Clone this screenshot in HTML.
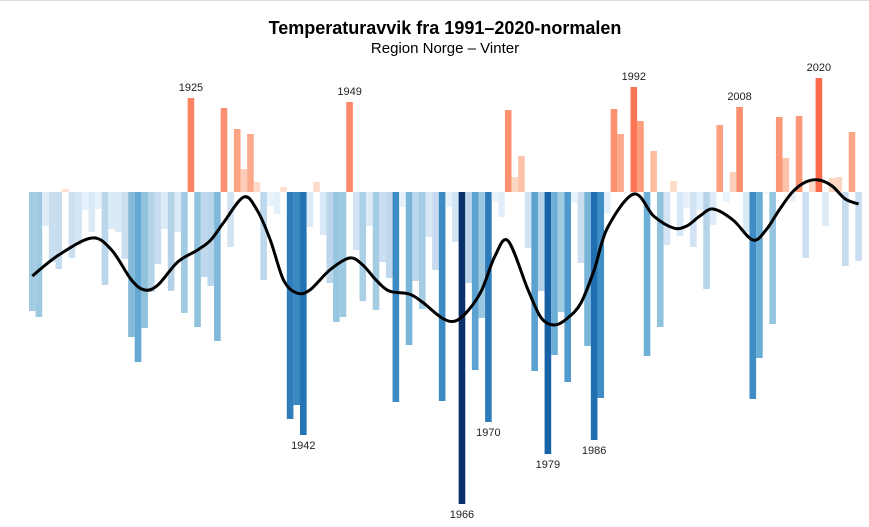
<!DOCTYPE html>
<html><head><meta charset="utf-8"><style>
body{margin:0;background:#fff;width:869px;height:527px;overflow:hidden;font-family:"Liberation Sans",sans-serif}
svg{display:block}
</style></head><body>
<svg id="chart" width="869" height="527" viewBox="0 0 869 527">
<line x1="0" y1="0.5" x2="869" y2="0.5" stroke="#ddd"/>
<text x="445" y="34" text-anchor="middle" font-size="18" font-weight="bold" fill="#000">Temperaturavvik fra 1991–2020-normalen</text>
<text x="445" y="53" text-anchor="middle" font-size="15" fill="#000">Region Norge – Vinter</text>
<g id="bars"></g>
<g id="labels"></g>
<path id="trend" fill="none" stroke="#000" stroke-width="3" stroke-linejoin="round"/>
</svg>
<script>
const firstYear = 1901;
const anomalies = [-119,-125,-34,-70,-77,3,-66,-53,-18,-40,-17,-93,-37,-40,-67,-145,-170,-136,-100,-72,-37,-99,-40,-121,94,-135,-85,-94,-149,84,-55,63,23,58,10,-88,-14,-22,5,-227,-213,-243,-35,10,-43,-91,-130,-125,90,-58,-109,-34,-118,-70,-86,-210,-15,-153,-89,-117,-45,-78,-209,-15,-50,-312,-91,-178,-126,-230,-10,-25,82,15,36,-56,-179,-99,-262,-163,-120,-190,-11,-71,-154,-248,-206,-21,83,58,-1,105,71,-164,41,-135,-53,11,-44,-16,-55,-18,-97,-33,67,-10,20,85,-40,-207,-166,-2,-132,75,34,-10,76,-66,10,114,-34,14,15,-74,60,-69];
const trendYears = [1901,1905,1910,1913,1916,1918,1920,1923,1926,1928,1930,1933,1935,1937,1939,1941,1943,1946,1949,1951,1953,1955,1958,1960,1963,1965,1967,1969,1971,1973,1976,1978,1980,1982,1984,1986,1988,1992,1995,1998,2000,2002,2004,2007,2010,2012,2014,2016,2018,2020,2022,2024,2026];
const trendValues = [-84,-63,-46,-58,-88,-98,-93,-70,-58,-48,-30,-5,-18,-48,-88,-101,-98,-78,-66,-73,-88,-99,-102,-110,-126,-129,-118,-98,-64,-49,-98,-126,-133,-126,-111,-78,-36,-2,-24,-36,-34,-24,-17,-28,-48,-38,-18,0,10,12,6,-7,-12];
const labelYears = [1925,1942,1949,1966,1970,1979,1986,1992,2008,2020];

const ns='http://www.w3.org/2000/svg';
const x0=29, step=6.61, zeroY=192, pxPerUnit=1;
function xScale(year){return x0+(year-firstYear)*step;}
function yScale(v){return zeroY - v*pxPerUnit;}
function lerp(a,b,t){const pa=[parseInt(a.slice(1,3),16),parseInt(a.slice(3,5),16),parseInt(a.slice(5,7),16)],pb=[parseInt(b.slice(1,3),16),parseInt(b.slice(3,5),16),parseInt(b.slice(5,7),16)];return 'rgb('+pa.map((c,i)=>Math.round(c+(pb[i]-c)*t)).join(',')+')';}
function ramp(stops,t){for(let i=1;i<stops.length;i++){if(t<=stops[i][0]){const s=stops[i-1],e=stops[i];return lerp(s[1],e[1],(t-s[0])/(e[0]-s[0]));}}return stops[stops.length-1][1];}
const blues=[[0,'#eef7fe'],[0.25,'#c6dbef'],[0.4,'#9ecae1'],[0.55,'#62a8d4'],[0.68,'#3a89c2'],[0.8,'#1f6eb0'],[0.9,'#0a4f98'],[1,'#08306b']];
const reds=[[0,'#fee3d6'],[0.3,'#fcc3aa'],[0.6,'#fc9f7e'],[0.8,'#fc8766'],[1,'#fb6a4a']];
function color(v){return v<0?ramp(blues,Math.min(1,-v/312)):ramp(reds,Math.min(1,v/114));}
const bars=document.getElementById('bars');
anomalies.forEach((v,i)=>{
  const year=firstYear+i;
  const r=document.createElementNS(ns,'rect');
  
  
  const x=xScale(year), y=Math.min(yScale(v),zeroY), h=Math.abs(yScale(v)-zeroY);
  r.setAttribute('x',x.toFixed(2));r.setAttribute('y',y.toFixed(2));
  r.setAttribute('width',step.toFixed(2));r.setAttribute('height',Math.max(h,0.5).toFixed(2));
  r.setAttribute('fill',color(v));
  bars.appendChild(r);
});
const labels=document.getElementById('labels');
labelYears.forEach(year=>{
  const v=anomalies[year-firstYear];
  const t=document.createElementNS(ns,'text');
  
  
  t.setAttribute('x',(xScale(year)+step/2).toFixed(2));
  t.setAttribute('y',(v>0?yScale(v)-7:yScale(v)+14).toFixed(2));
  t.setAttribute('text-anchor','middle');t.setAttribute('font-size','11');t.setAttribute('fill','#222');
  t.textContent=year;labels.appendChild(t);
});
const pts=trendYears.map((y,i)=>[xScale(y)+step/2,yScale(trendValues[i])]);
let d='M'+pts[0][0].toFixed(1)+','+pts[0][1].toFixed(1);
for(let i=0;i<pts.length-1;i++){
  const p0=pts[Math.max(0,i-1)],p1=pts[i],p2=pts[i+1],p3=pts[Math.min(pts.length-1,i+2)];
  const c1=[p1[0]+(p2[0]-p0[0])/6,p1[1]+(p2[1]-p0[1])/6],c2=[p2[0]-(p3[0]-p1[0])/6,p2[1]-(p3[1]-p1[1])/6];
  d+=' C'+c1[0].toFixed(1)+','+c1[1].toFixed(1)+' '+c2[0].toFixed(1)+','+c2[1].toFixed(1)+' '+p2[0].toFixed(1)+','+p2[1].toFixed(1);
}
document.getElementById('trend').setAttribute('d',d);
</script>
</body></html>
